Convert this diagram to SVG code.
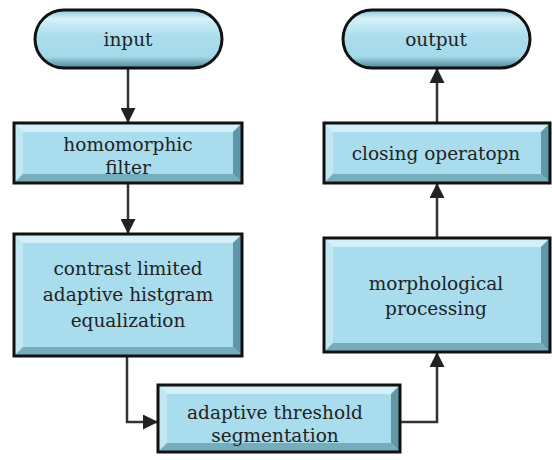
<svg xmlns="http://www.w3.org/2000/svg" width="552" height="460" viewBox="0 0 552 460">
  <defs>
    <style>
      .lbl { font-family: "DejaVu Serif", "Liberation Serif", serif; font-size: 18.5px; fill: #222; text-anchor: middle; }
      .face { fill: #a9dded; }
      .bt { fill: #d3eff8; }
      .bl { fill: #c2e7f3; }
      .br { fill: #5f98a9; }
      .bb { fill: #76adbd; }
      .frame { fill: none; stroke: #111; stroke-width: 3; }
      .pill { fill: url(#pillGrad); stroke: #111; stroke-width: 3; }
      .wire { fill: none; stroke: #333; stroke-width: 2.5; }
    </style>
    <linearGradient id="pillGrad" x1="0" y1="0" x2="0" y2="1">
      <stop offset="0" stop-color="#8fc7d8"/>
      <stop offset="0.15" stop-color="#d6f1f9"/>
      <stop offset="0.45" stop-color="#aadeee"/>
      <stop offset="0.8" stop-color="#a4d9e9"/>
      <stop offset="1" stop-color="#4f8797"/>
    </linearGradient>
    <marker id="arrow" viewBox="0 0 15 15" refX="14" refY="7.5" markerWidth="15" markerHeight="15" markerUnits="userSpaceOnUse" orient="auto">
      <path d="M0,0 L15,7.5 L0,15 Z" fill="#222"/>
    </marker>
  </defs>

  <!-- connectors -->
  <g id="connectors">
    <line class="wire" x1="128" y1="68" x2="128" y2="122" marker-end="url(#arrow)"/>
    <line class="wire" x1="128" y1="183" x2="128" y2="233" marker-end="url(#arrow)"/>
    <polyline class="wire" points="127,356 127,422 157,422" marker-end="url(#arrow)"/>
    <polyline class="wire" points="400,422 437,422 437,353" marker-end="url(#arrow)"/>
    <line class="wire" x1="437" y1="238" x2="437" y2="184" marker-end="url(#arrow)"/>
    <line class="wire" x1="437" y1="123" x2="437" y2="69" marker-end="url(#arrow)"/>
  </g>

  <!-- start terminal -->
  <g id="input">
    <rect class="pill" x="35" y="10" width="187" height="58" rx="29"/>
    <text class="lbl" x="128" y="46">input</text>
  </g>

  <!-- end terminal -->
  <g id="output">
    <rect class="pill" x="343" y="10" width="187" height="58" rx="29"/>
    <text class="lbl" x="436" y="46">output</text>
  </g>

  <!-- bevelled process boxes: face, four bevel edges, frame -->
  <g id="homomorphic" transform="translate(14,123)">
    <rect class="face" width="228" height="60"/>
    <polygon class="bt" points="0,0 228,0 219,9 9,9"/>
    <polygon class="bl" points="0,0 9,9 9,51 0,60"/>
    <polygon class="br" points="228,0 228,60 219,51 219,9"/>
    <polygon class="bb" points="0,60 228,60 219,51 9,51"/>
    <rect class="frame" width="228" height="60"/>
    <text class="lbl" x="114" y="28">homomorphic</text>
    <text class="lbl" x="114" y="51">filter</text>
  </g>

  <g id="clahe" transform="translate(14,234)">
    <rect class="face" width="228" height="122"/>
    <polygon class="bt" points="0,0 228,0 219,9 9,9"/>
    <polygon class="bl" points="0,0 9,9 9,113 0,122"/>
    <polygon class="br" points="228,0 228,122 219,113 219,9"/>
    <polygon class="bb" points="0,122 228,122 219,113 9,113"/>
    <rect class="frame" width="228" height="122"/>
    <text class="lbl" x="114" y="41">contrast limited</text>
    <text class="lbl" x="114" y="67">adaptive histgram</text>
    <text class="lbl" x="114" y="93">equalization</text>
  </g>

  <g id="threshold" transform="translate(158,385)">
    <rect class="face" width="242" height="67"/>
    <polygon class="bt" points="0,0 242,0 233,9 9,9"/>
    <polygon class="bl" points="0,0 9,9 9,58 0,67"/>
    <polygon class="br" points="242,0 242,67 233,58 233,9"/>
    <polygon class="bb" points="0,67 242,67 233,58 9,58"/>
    <rect class="frame" width="242" height="67"/>
    <text class="lbl" x="117" y="34">adaptive threshold</text>
    <text class="lbl" x="117" y="57">segmentation</text>
  </g>

  <g id="morphology" transform="translate(324,238)">
    <rect class="face" width="226" height="114"/>
    <polygon class="bt" points="0,0 226,0 217,9 9,9"/>
    <polygon class="bl" points="0,0 9,9 9,105 0,114"/>
    <polygon class="br" points="226,0 226,114 217,105 217,9"/>
    <polygon class="bb" points="0,114 226,114 217,105 9,105"/>
    <rect class="frame" width="226" height="114"/>
    <text class="lbl" x="112" y="52">morphological</text>
    <text class="lbl" x="112" y="77">processing</text>
  </g>

  <g id="closing" transform="translate(324,123)">
    <rect class="face" width="226" height="60"/>
    <polygon class="bt" points="0,0 226,0 217,9 9,9"/>
    <polygon class="bl" points="0,0 9,9 9,51 0,60"/>
    <polygon class="br" points="226,0 226,60 217,51 217,9"/>
    <polygon class="bb" points="0,60 226,60 217,51 9,51"/>
    <rect class="frame" width="226" height="60"/>
    <text class="lbl" x="112" y="37">closing operatopn</text>
  </g>
</svg>
